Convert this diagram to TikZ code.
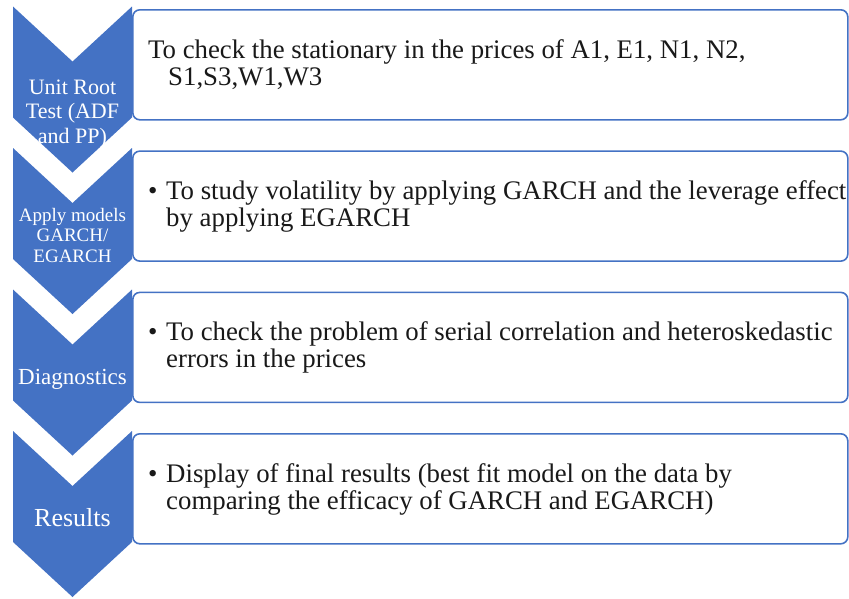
\documentclass[tikz,border=0pt]{standalone}
\usepackage{fontspec}
\setmainfont{Liberation Serif}
\definecolor{chevblue}{HTML}{4472C4}
\begin{document}
\begin{tikzpicture}[x=1pt,y=-1pt,
  stepbox/.style={draw=chevblue, line width=1.6pt, fill=white, rounded corners=7pt,
    minimum width=715pt, minimum height=110pt, anchor=north west, inner sep=0pt},
  boxtext/.style={anchor=base west, inner sep=0pt, text=black!90,
    font=\fontsize{26.8}{27}\selectfont},
  chevtext/.style={anchor=base, inner sep=0pt, text=white},
]
\useasboundingbox (0,0) rectangle (849,598);

% text panels on the right
\node[stepbox] (box1) at (132,9) {};
\node[stepbox] (box2) at (132,150.3) {};
\node[stepbox] (box3) at (132,291.6) {};
\node[stepbox] (box4) at (132,433) {};

% downward chevrons on the left
\foreach \t in {6.5,148,289.5,431}
  \fill[chevblue] (13,\t) -- (72.5,\t+55) -- (132,\t) -- (132,\t+111)
    -- (72.5,\t+166) -- (13,\t+111) -- cycle;

% chevron labels
\begin{scope}[every node/.append style={font=\fontsize{22}{24}\selectfont}]
  \node[chevtext] (c1a) at (72.5,94) {Unit Root};
  \node[chevtext] (c1b) at (72.5,118.5) {Test (ADF};
  \node[chevtext] (c1c) at (72.5,143) {and PP)};
\end{scope}
\begin{scope}[every node/.append style={font=\fontsize{19}{20}\selectfont}]
  \node[chevtext] (c2a) at (72.5,221) {Apply models};
  \node[chevtext] (c2b) at (72.5,241.5) {GARCH/};
  \node[chevtext] (c2c) at (72.5,262) {EGARCH};
\end{scope}
\node[chevtext, font=\fontsize{23}{25}\selectfont] (c3) at (72.5,384) {Diagnostics};
\node[chevtext, font=\fontsize{26}{28}\selectfont] (c4) at (72.5,526) {Results};

% panel texts
\node[boxtext] (t1a) at (148,58.2) {To check the stationary in the prices of A1, E1, N1, N2,};
\node[boxtext] (t1b) at (168,85.2) {S1,S3,W1,W3};

\node[boxtext] (b2) at (148,199.5) {\textbullet};
\node[boxtext] (t2a) at (166,199.5) {To study volatility by applying GARCH and the leverage effect};
\node[boxtext] (t2b) at (166,226.5) {by applying EGARCH};

\node[boxtext] (b3) at (148,340.8) {\textbullet};
\node[boxtext] (t3a) at (166,340.8) {To check the problem of serial correlation and heteroskedastic};
\node[boxtext] (t3b) at (166,367.8) {errors in the prices};

\node[boxtext] (b4) at (148,482.2) {\textbullet};
\node[boxtext] (t4a) at (166,482.2) {Display of final results (best fit model on the data by};
\node[boxtext] (t4b) at (166,509.2) {comparing the efficacy of GARCH and EGARCH)};
\end{tikzpicture}
\end{document}
